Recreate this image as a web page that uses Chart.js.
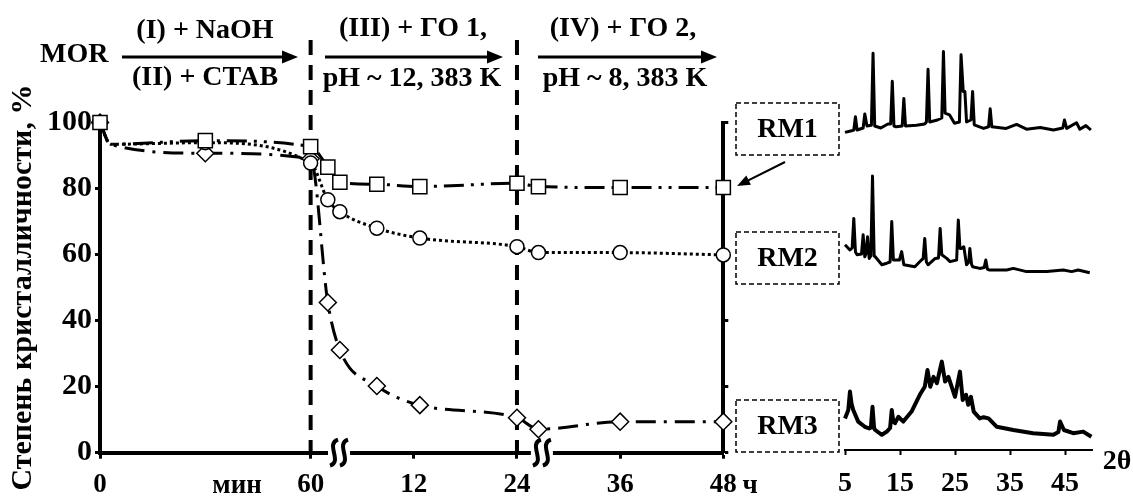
<!DOCTYPE html>
<html lang="ru">
<head>
<meta charset="utf-8">
<title>Степень кристалличности</title>
<script src="https://cdn.jsdelivr.net/npm/chart.js@4.4.0/dist/chart.umd.min.js"></script>
<style>
  html, body { margin: 0; padding: 0; background: #fff; }
  #wrap { position: relative; width: 1133px; height: 496px; }
  #mainChart { position: absolute; left: 0; top: 0; }
  #xrdChart { position: absolute; left: 800px; top: 0; }
</style>
</head>
<body>
<div id="wrap">
  <canvas id="mainChart" width="1133" height="496"></canvas>
  <canvas id="xrdChart" width="333" height="496"></canvas>
</div>
<script>
// время: стадии I–II в минутах, стадии III–IV в часах
const tMin = [0, 3, 30, 60];
const tHour = [2, 3.4, 7.7, 12.7, 24, 26.5, 36, 48];

// степень кристалличности, %
const rm1 = [100, 93.4, 94.5, 92.7, 86.5, 81.9, 81.3, 80.6, 81.6, 80.6, 80.3, 80.3];
const rm2 = [100, 93.4, 93.9, 87.7, 76.6, 73.0, 68.0, 65.0, 62.4, 60.6, 60.6, 59.9];
const rm3 = [100, 93.4, 90.7, 89.0, 45.5, 31.1, 20.2, 14.4, 10.6, 7.1, 9.4, 9.4];

const xTickMin = [0, 60];
const xTickHour = [12, 24, 36, 48];
const xTickLabels = ['0', '60', '12', '24', '36', '48'];
const stageBounds = [0, 24]; // начало стадий III и IV, ч

// дифрактограммы: 2θ и интенсивность (усл. ед., со сдвигом)
const rm1Theta = [5.0, 6.2, 6.6, 6.9, 7.2, 8.3, 8.6, 9.0, 9.8, 10.1, 10.4, 11.5, 12.8, 13.3, 13.6, 13.9, 14.3, 15.4, 15.7, 16.0,
  18.0, 19.5, 19.8, 20.1, 20.4, 21.8, 22.6, 22.9, 23.2, 24.0, 24.9, 25.8, 26.1, 26.5, 26.8, 27.1, 27.9, 28.2, 28.5,
  30.2, 31.1, 31.4, 31.7, 34.3, 36.2, 38.0, 40.5, 42.9, 44.6, 44.9, 45.3, 47.1, 47.7, 48.8, 49.7];
const rm1Int = [79.4, 79.8, 80.0, 83.3, 80.0, 80.5, 84.0, 81.0, 81.2, 99.2, 81.0, 80.5, 81.5, 81.5, 92.2, 81.0, 80.8, 81.0, 87.9, 81.0,
  81.2, 81.5, 82.0, 95.2, 82.0, 82.5, 83.0, 99.6, 84.2, 83.8, 81.7, 82.0, 98.8, 89.6, 89.6, 82.0, 82.5, 89.6, 81.3,
  80.4, 80.8, 85.3, 80.8, 80.4, 81.4, 80.2, 80.6, 80.0, 80.5, 82.5, 80.4, 81.8, 80.2, 81.1, 80.0];

const rm2Theta = [5.0, 5.9, 6.3, 6.6, 6.9, 7.2, 8.0, 8.3, 8.6, 8.8, 9.1, 9.4, 9.7, 10.0, 10.3, 10.5, 11.7, 12.6, 13.2, 13.5,
  13.8, 14.1, 14.9, 15.3, 15.7, 17.7, 18.9, 19.2, 19.5, 19.8, 20.1, 21.4, 22.0, 22.3, 22.6, 23.5, 24.1, 25.3, 25.6,
  25.9, 26.2, 26.6, 27.1, 27.5, 27.7, 28.0, 28.2, 29.5, 30.3, 30.6, 30.9, 31.2, 34.4, 35.6, 38.0, 41.7, 44.7, 46.2, 47.4, 49.5];
const rm2Int = [51.3, 50.0, 50.5, 57.9, 49.5, 48.8, 49.0, 53.8, 48.3, 49.0, 53.3, 47.9, 48.5, 68.5, 48.5, 48.3, 46.3, 46.7, 47.0, 57.1,
  47.5, 47.5, 47.5, 49.6, 46.3, 45.8, 47.5, 47.8, 52.9, 47.0, 46.3, 47.9, 48.0, 55.4, 48.8, 47.9, 47.1, 47.5, 57.5,
  50.4, 50.4, 50.8, 46.3, 47.0, 50.4, 46.5, 45.8, 45.4, 45.6, 47.5, 45.2, 45.0, 45.0, 45.4, 44.6, 44.6, 45.0, 44.6, 45.0, 44.3];

const rm3Theta = [5.0, 5.6, 5.9, 6.2, 6.5, 7.4, 8.6, 9.4, 9.7, 10.0, 10.3, 10.5, 11.7, 12.6, 13.2, 13.5, 13.8, 14.1, 14.7, 15.6,
  17.1, 18.6, 19.5, 20.0, 20.5, 21.1, 21.7, 22.6, 23.2, 23.8, 25.0, 25.9, 26.4, 27.0, 27.4, 27.9, 28.4, 29.5, 30.2,
  31.1, 32.6, 35.6, 39.2, 42.9, 43.8, 44.1, 44.8, 46.5, 48.3, 49.8];
const rm3Int = [7.9, 10.0, 14.6, 11.5, 10.0, 7.1, 5.8, 5.4, 5.6, 10.8, 5.4, 5.0, 3.8, 4.6, 5.5, 10.0, 7.0, 6.7, 8.3, 7.1,
  9.6, 13.8, 15.8, 20.0, 15.8, 18.3, 16.7, 22.1, 17.1, 18.3, 13.3, 19.6, 12.5, 13.8, 11.3, 13.3, 9.6, 7.9, 8.2,
  7.9, 5.8, 5.0, 4.2, 3.8, 4.5, 7.1, 5.0, 4.2, 4.6, 3.3];
const xrdTicks = [5, 15, 25, 35, 45];

const FONT = '"Liberation Serif", "Times New Roman", serif';

// участок 0–60 мин занимает на оси столько же, сколько 24,5 ч
const MIN_SPAN = 24.5;
const posMin = m => m / 60 * MIN_SPAN;
const posHour = h => MIN_SPAN + h;
const timePos = [...tMin.map(posMin), ...tHour.map(posHour)];
const xTickPos = [...xTickMin.map(posMin), ...xTickHour.map(posHour)];

function series(values) {
    return timePos.map((x, i) => ({ x: x, y: values[i] }));
}
function pattern(theta, intensity) {
    return theta.map((t, i) => ({ x: t, y: intensity[i] }));
}

function text(ctx, s, x, y, size, align) {
    ctx.font = 'bold ' + size + 'px ' + FONT;
    ctx.textAlign = align || 'center';
    ctx.textBaseline = 'middle';
    ctx.fillText(s, x, y);
}

function arrow(ctx, x1, y1, x2, y2, width, head) {
    const a = Math.atan2(y2 - y1, x2 - x1);
    ctx.lineWidth = width;
    ctx.setLineDash([]);
    ctx.beginPath();
    ctx.moveTo(x1, y1);
    ctx.lineTo(x2 - Math.cos(a) * head * 0.8, y2 - Math.sin(a) * head * 0.8);
    ctx.stroke();
    ctx.beginPath();
    ctx.moveTo(x2, y2);
    ctx.lineTo(x2 - Math.cos(a) * head + Math.sin(a) * head * 0.4, y2 - Math.sin(a) * head - Math.cos(a) * head * 0.4);
    ctx.lineTo(x2 - Math.cos(a) * head - Math.sin(a) * head * 0.4, y2 - Math.sin(a) * head + Math.cos(a) * head * 0.4);
    ctx.closePath();
    ctx.fill();
}

function axisBreak(ctx, cx, cy) {
    ctx.fillStyle = '#fff';
    ctx.fillRect(cx - 11, cy - 4, 22, 8);
    ctx.fillStyle = '#000';
    ctx.lineWidth = 4;
    ctx.setLineDash([]);
    [-5, 5].forEach(dx => {
        const x = cx + dx;
        ctx.beginPath();
        ctx.moveTo(x - 4, cy + 13);
        ctx.bezierCurveTo(x + 9, cy + 9, x - 9, cy - 9, x + 4, cy - 13);
        ctx.stroke();
    });
}

const mainDecor = {
    id: 'mainDecor',
    beforeDatasetsDraw(chart) {
        const { ctx, scales: { x, y } } = chart;
        ctx.save();
        ctx.strokeStyle = '#000';
        ctx.lineWidth = 4;
        ctx.setLineDash([15, 10]);
        stageBounds.forEach(h => {
            const px = x.getPixelForValue(posHour(h));
            ctx.beginPath();
            ctx.moveTo(px, 40);
            ctx.lineTo(px, y.bottom);
            ctx.stroke();
        });
        ctx.restore();
    },
    afterDraw(chart) {
        const { ctx, scales: { x, y } } = chart;
        ctx.save();
        ctx.fillStyle = '#000';
        ctx.strokeStyle = '#000';

        // схема синтеза
        text(ctx, 'MOR', 40, 55, 28, 'left');
        text(ctx, '(I) + NaOH', 205, 31, 28);
        text(ctx, '(II) + CTAB', 205, 78, 28);
        text(ctx, '(III) + ГО 1,', 413, 29, 28);
        text(ctx, 'pH ~ 12, 383 K', 412, 79, 28);
        text(ctx, '(IV) + ГО 2,', 623, 29, 28);
        text(ctx, 'pH ~ 8, 383 K', 625, 79, 28);
        arrow(ctx, 122, 57, 298, 57, 3, 16);
        arrow(ctx, 325, 57, 503, 57, 3, 16);
        arrow(ctx, 538, 57, 717, 57, 3, 16);

        // разрывы оси времени
        axisBreak(ctx, x.getPixelForValue(posHour(3.3)), y.bottom);
        axisBreak(ctx, x.getPixelForValue(posHour(26.9)), y.bottom);

        // единицы
        ctx.font = 'bold 27px ' + FONT;
        ctx.textAlign = 'center';
        ctx.textBaseline = 'alphabetic';
        ctx.fillText('мин', 237, 493);
        ctx.fillText('ч', 750, 493);

        // подписи образцов
        ctx.lineWidth = 1.5;
        ctx.setLineDash([5, 3]);
        [['RM1', 103], ['RM2', 232], ['RM3', 400]].forEach(([name, top]) => {
            ctx.strokeRect(736, top, 103, 52);
            text(ctx, name, 787.5, top + 27, 28);
        });
        arrow(ctx, 785, 162, 737, 186, 2, 13);
        ctx.restore();
    }
};

const tickFont = size => ({ family: FONT, size: size, weight: 'bold' });
const tickGrid = { drawOnChartArea: false, tickLength: 5, tickWidth: 3, tickColor: '#000' };

const lineBase = {
    borderColor: '#000',
    borderWidth: 3,
    borderCapStyle: 'butt',
    pointBackgroundColor: '#fff',
    pointBorderColor: '#000',
    pointBorderWidth: 1.5,
    cubicInterpolationMode: 'monotone',
    fill: false,
    clip: false
};
// точка-перегиб на 3 мин без маркера
const markerRadius = r => ctx => (ctx.dataIndex === 1 ? 0 : r);

new Chart(document.getElementById('mainChart'), {
    type: 'line',
    data: {
        datasets: [
            Object.assign({}, lineBase, {
                label: 'RM1', data: series(rm1), borderDash: [20, 7, 3, 7, 3, 7],
                pointStyle: 'rect', pointRadius: markerRadius(10)
            }),
            Object.assign({}, lineBase, {
                label: 'RM2', data: series(rm2), borderDash: [3, 3],
                pointStyle: 'circle', pointRadius: markerRadius(7)
            }),
            Object.assign({}, lineBase, {
                label: 'RM3', data: series(rm3), borderDash: [20, 8, 3, 8],
                pointStyle: 'rectRot', pointRadius: markerRadius(8.5)
            })
        ]
    },
    options: {
        responsive: false,
        animation: false,
        layout: { padding: { top: 122.5, left: 0, right: 0, bottom: 0 } },
        plugins: { legend: { display: false }, tooltip: { enabled: false } },
        scales: {
            x: {
                type: 'linear',
                min: 0,
                max: posHour(48),
                afterBuildTicks: s => { s.ticks = xTickPos.map(v => ({ value: v })); },
                ticks: {
                    autoSkip: false, maxRotation: 0, color: '#000', padding: 10,
                    font: tickFont(27),
                    callback: (v, i) => xTickLabels[i]
                },
                grid: Object.assign({}, tickGrid, { tickLength: 6 }),
                border: { width: 4, color: '#000' },
                afterFit: s => { s.height = 43.3; }
            },
            y: {
                position: 'left',
                min: 0,
                max: 100,
                ticks: { stepSize: 20, color: '#000', padding: 3, font: tickFont(30) },
                grid: tickGrid,
                border: { width: 4, color: '#000' },
                title: {
                    display: true,
                    text: 'Степень кристалличности, %',
                    color: '#000',
                    font: tickFont(30),
                    padding: { top: 5, bottom: 0 }
                },
                afterFit: s => { s.width = 100; }
            },
            y2: {
                position: 'right',
                min: 0,
                max: 100,
                ticks: { stepSize: 20, display: false },
                grid: tickGrid,
                border: { width: 4, color: '#000' },
                afterFit: s => { s.width = 409.7; }
            }
        }
    },
    plugins: [mainDecor]
});

const xrdLabel = {
    id: 'xrdLabel',
    afterDraw(chart) {
        const ctx = chart.ctx;
        ctx.save();
        ctx.fillStyle = '#000';
        text(ctx, '2θ', 317, 462, 28);
        ctx.restore();
    }
};

const xrdLine = {
    borderColor: '#000',
    borderWidth: 3,
    borderJoinStyle: 'round',
    pointRadius: 0,
    tension: 0,
    fill: false,
    clip: false
};

new Chart(document.getElementById('xrdChart'), {
    type: 'line',
    data: {
        datasets: [
            Object.assign({}, xrdLine, { label: 'RM1', data: pattern(rm1Theta, rm1Int) }),
            Object.assign({}, xrdLine, { label: 'RM2', data: pattern(rm2Theta, rm2Int) }),
            Object.assign({}, xrdLine, { label: 'RM3', data: pattern(rm3Theta, rm3Int), borderWidth: 4 })
        ]
    },
    options: {
        responsive: false,
        animation: false,
        layout: { padding: { top: 50, left: 45, right: 40.5, bottom: 0 } },
        plugins: { legend: { display: false }, tooltip: { enabled: false } },
        scales: {
            x: {
                type: 'linear',
                min: 5,
                max: 50,
                afterBuildTicks: s => { s.ticks = xrdTicks.map(v => ({ value: v })); },
                ticks: { autoSkip: false, maxRotation: 0, color: '#000', padding: 12, font: tickFont(28) },
                grid: { drawOnChartArea: false, tickLength: 5, tickWidth: 2, tickColor: '#000' },
                border: { width: 2, color: '#000' },
                afterFit: s => { s.height = 46; }
            },
            y: { display: false, min: 0, max: 100 }
        }
    },
    plugins: [xrdLabel]
});
</script>
</body>
</html>
